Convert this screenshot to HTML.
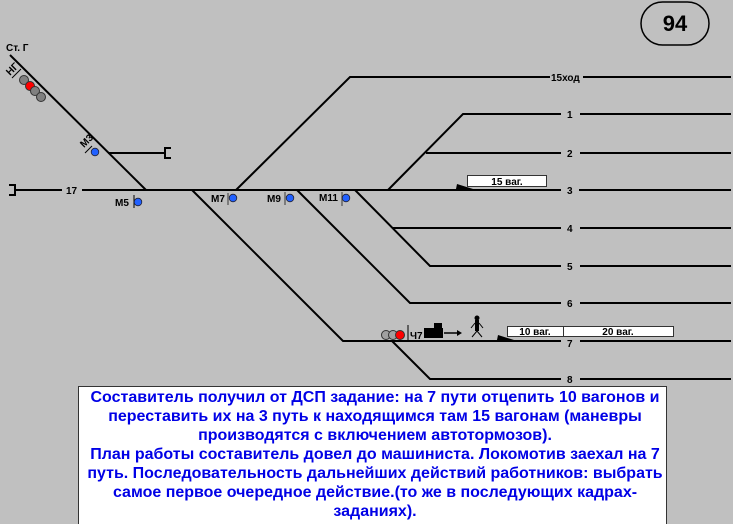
<!DOCTYPE html>
<html><head><meta charset="utf-8"><style>
html,body{margin:0;padding:0;background:#c0c0c0;}
svg{display:block;}
text{font-family:"Liberation Sans",sans-serif;font-weight:bold;}
</style></head><body>
<svg width="733" height="524" viewBox="0 0 733 524" xmlns="http://www.w3.org/2000/svg">
<rect width="733" height="524" fill="#c0c0c0"/>
<g stroke="#000" stroke-width="2" fill="none">
<line x1="10" y1="55" x2="146" y2="190"/>
<line x1="108" y1="153" x2="165" y2="153"/>
<polyline points="171,148 165,148 165,158 171,158"/>
<polyline points="9,185 15,185 15,195 9,195"/>
<line x1="15" y1="190" x2="62" y2="190"/>
<line x1="82" y1="190" x2="561" y2="190"/>
<line x1="579" y1="190" x2="731" y2="190"/>
<polyline points="236,190 350,77 550,77"/>
<line x1="583" y1="77" x2="731" y2="77"/>
<polyline points="388,190 463,114 561,114"/>
<line x1="580" y1="114" x2="731" y2="114"/>
<line x1="426" y1="153" x2="561" y2="153"/>
<line x1="580" y1="153" x2="731" y2="153"/>
<polyline points="355,190 430,266 561,266"/>
<line x1="580" y1="266" x2="731" y2="266"/>
<line x1="393" y1="228" x2="561" y2="228"/>
<line x1="580" y1="228" x2="731" y2="228"/>
<polyline points="297,190 410,303 561,303"/>
<line x1="580" y1="303" x2="731" y2="303"/>
<polyline points="192,190 343,341 561,341"/>
<line x1="580" y1="341" x2="731" y2="341"/>
<polyline points="392,341 430,379 561,379"/>
<line x1="580" y1="379" x2="731" y2="379"/>
</g>
<g stroke="#000" stroke-width="1">
<line x1="21" y1="69" x2="12" y2="78"/>
<line x1="92" y1="146" x2="85" y2="153"/>
<line x1="134" y1="195" x2="134" y2="208"/>
<line x1="408" y1="325" x2="408" y2="340"/>
</g>
<g stroke="#666" stroke-width="1.5">
<line x1="228" y1="193" x2="228" y2="205"/>
<line x1="285" y1="192" x2="285" y2="205"/>
<line x1="342" y1="192" x2="342" y2="206"/>
</g>
<g stroke="#333" stroke-width="1">
<circle cx="24" cy="80" r="4.5" fill="#808080"/>
<circle cx="30" cy="86" r="4.5" fill="#ff0000"/>
<circle cx="35" cy="91" r="4.5" fill="#808080"/>
<circle cx="41" cy="97" r="4.5" fill="#808080"/>
<circle cx="386" cy="335" r="4.5" fill="#a0a0a0"/>
<circle cx="393" cy="335" r="4.5" fill="#a0a0a0"/>
<circle cx="400" cy="335" r="4.5" fill="#ff0000"/>
</g>
<g fill="#2060ff" stroke="#223" stroke-width="0.8">
<circle cx="95" cy="152" r="3.8"/>
<circle cx="138" cy="202" r="3.8"/>
<circle cx="233" cy="198" r="3.8"/>
<circle cx="290" cy="198" r="3.8"/>
<circle cx="346" cy="198" r="3.8"/>
</g>
<g font-size="10" fill="#000">
<text x="6" y="51">Ст. Г</text>
<text x="10" y="76" transform="rotate(-45 10 76)">НГ</text>
<text x="79" y="146" transform="rotate(-45 84 141)">М3</text>
<text x="115" y="206">М5</text>
<text x="211" y="202">М7</text>
<text x="267" y="202">М9</text>
<text x="319" y="201">М11</text>
<text x="66" y="194">17</text>
<text x="551" y="81">15ход</text>
<text x="567" y="118">1</text>
<text x="567" y="157">2</text>
<text x="567" y="194">3</text>
<text x="567" y="232">4</text>
<text x="567" y="270">5</text>
<text x="567" y="307">6</text>
<text x="567" y="347">7</text>
<text x="567" y="383">8</text>
<text x="410" y="339">Ч7</text>
</g>
<g stroke="#333" stroke-width="1" fill="#fff">
<rect x="467.5" y="175.5" width="79" height="11"/>
<rect x="507.5" y="326.5" width="56" height="10"/>
<rect x="563.5" y="326.5" width="110" height="10"/>
</g>
<g font-size="10" fill="#000" text-anchor="middle">
<text x="507" y="185">15 ваг.</text>
<text x="535" y="335">10 ваг.</text>
<text x="618" y="335">20 ваг.</text>
</g>
<polygon points="456,189 457,184 473,189" fill="#000"/>
<polygon points="497,340 498,335 514,340" fill="#000"/>
<rect x="424" y="328" width="19" height="10" fill="#000"/>
<rect x="434" y="323" width="8" height="6" fill="#000"/>
<line x1="444" y1="333" x2="457" y2="333" stroke="#000" stroke-width="1.5"/>
<polygon points="457,330 462,333 457,336" fill="#000"/>
<circle cx="477" cy="318" r="2.5" fill="#000"/>
<rect x="475" y="320" width="4" height="11" fill="#000"/>
<g stroke="#000" stroke-width="1"><line x1="477" y1="331" x2="472" y2="337"/><line x1="477" y1="331" x2="482" y2="337"/><line x1="475" y1="323" x2="471" y2="328"/><line x1="479" y1="323" x2="483" y2="328"/></g>
<rect x="641" y="2" width="68" height="43" rx="21.5" fill="none" stroke="#000" stroke-width="1.5"/>
<text x="675" y="31" font-size="22" text-anchor="middle" fill="#000">94</text>
<rect x="78.5" y="386.5" width="588" height="140" fill="#fff" stroke="#333" stroke-width="1"/>
<g font-size="16" fill="#0000e6" text-anchor="middle">
<text x="375" y="402">Составитель получил от ДСП задание: на 7 пути отцепить 10 вагонов и</text>
<text x="375" y="421">переставить их на 3 путь к находящимся там 15 вагонам (маневры</text>
<text x="375" y="440">производятся с включением автотормозов).</text>
<text x="375" y="459">План работы составитель довел до машиниста. Локомотив заехал на 7</text>
<text x="375" y="478">путь. Последовательность дальнейших действий работников: выбрать</text>
<text x="375" y="497">самое первое очередное действие.(то же в последующих кадрах-</text>
<text x="375" y="516">заданиях).</text>
</g>
</svg>
</body></html>
